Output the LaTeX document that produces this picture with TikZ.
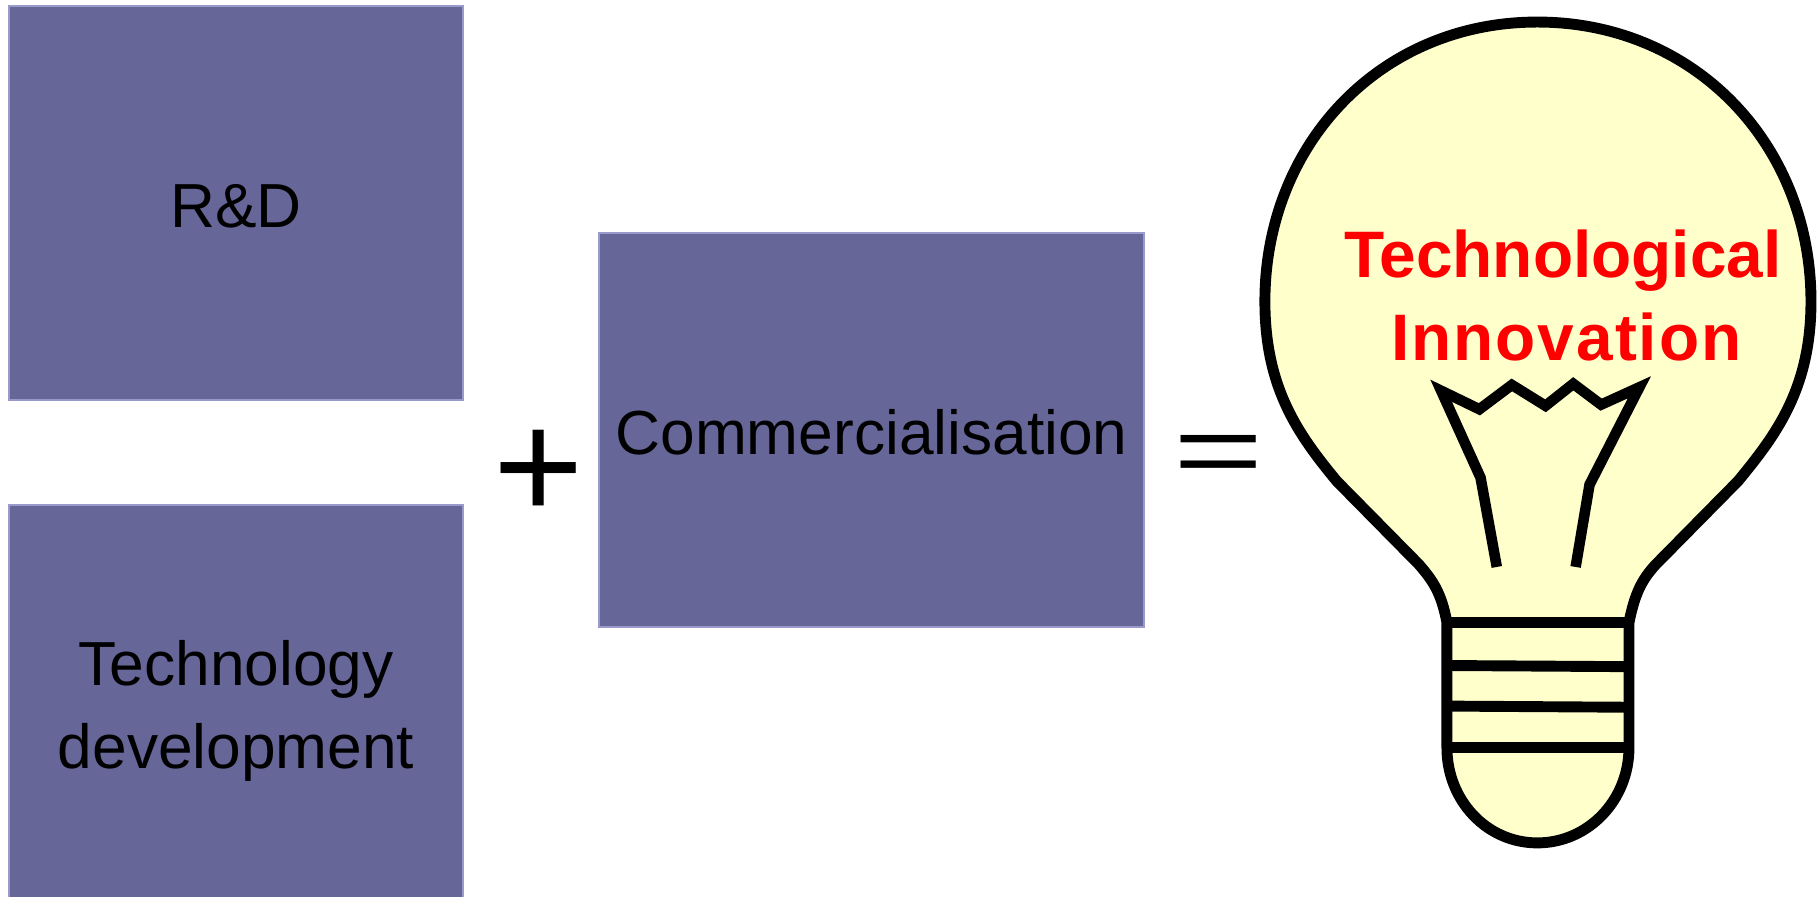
\documentclass[tikz,border=0pt]{standalone}
\usepackage{fontspec}
\setmainfont{Liberation Sans}
\definecolor{boxfill}{HTML}{666699}
\definecolor{boxedge}{HTML}{9999CC}
\definecolor{bulbfill}{HTML}{FFFFCC}
\tikzset{
  stagebox/.style={draw=boxedge,fill=boxfill,line width=0.7pt,inner sep=0pt,outer sep=0pt,align=center,text=black,font=\fontsize{17.7}{23.5}\selectfont},
  boxlabel/.style={inner sep=0pt,outer sep=0pt,text=black,font=\fontsize{17.7}{21}\selectfont},
  opsign/.style={inner sep=0pt,outer sep=0pt,text=black,font=\fontsize{44}{44}\selectfont},
  bulbline/.style={draw=black,line width=3.1pt,line join=round},
  wire/.style={draw=black,line width=3pt,line join=miter,miter limit=10},
  bulbtext/.style={inner sep=0pt,outer sep=0pt,text=red,font=\fontsize{18.7}{18.7}\selectfont\bfseries}
}
\begin{document}
\begin{tikzpicture}[x=0.01cm,y=-0.01cm]
\useasboundingbox (0,0) rectangle (1818,896);
\node[stagebox,minimum width=4.54cm,minimum height=3.94cm] (rd) at (236,203) {};
\node[boxlabel] (rdt) at (236,206) {R\&D};
\node[stagebox,minimum width=4.54cm,minimum height=4.12cm] (td) at (236,711) {Technology\\development};
\node[stagebox,minimum width=5.45cm,minimum height=3.94cm] (cm) at (871.5,430) {};
\node[boxlabel] (cmt) at (871.5,432) {Commercialisation};
\node[opsign] (plus) at (539,475) {+};
\node[opsign,yscale=0.66] (equals) at (1219,460) {=};
\begin{scope}[scale=1.1594]
\path[bulbline,fill=bulbfill] (1248,537) .. controls (1243,510) and (1235,500) .. (1224,487) -- (1153,415)
  .. controls (1120,375) and (1091,335) .. (1091,260)
  .. controls (1091,125) and (1190,19) .. (1326,19)
  .. controls (1462,19) and (1562,125) .. (1562,260)
  .. controls (1562,335) and (1532,375) .. (1499,415)
  -- (1428,487) .. controls (1416,500) and (1410,512) .. (1405,537)
  -- (1405,645)
  .. controls (1405,690) and (1370,727) .. (1326,727)
  .. controls (1282,727) and (1248,690) .. (1248,645) -- cycle;
\draw[bulbline] (1248,537) -- (1405,537);
\draw[bulbline] (1248,574) -- (1405,575);
\draw[bulbline] (1248,609) -- (1405,610);
\draw[bulbline] (1248,645) -- (1405,645);
\path[wire] (1291,489) -- (1277,412) -- (1243,337) -- (1276,353) -- (1304,332) -- (1333,350) -- (1357,331) -- (1381,349) -- (1414,334) -- (1371,418) -- (1359,489);
\node[bulbtext] (t1) at (1348,225) {Technological};
\node[bulbtext,font=\fontsize{18.7}{18.7}\selectfont\bfseries\addfontfeature{LetterSpace=3.0}] (t2) at (1351,291) {Innovation};
\end{scope}
\end{tikzpicture}
\end{document}
